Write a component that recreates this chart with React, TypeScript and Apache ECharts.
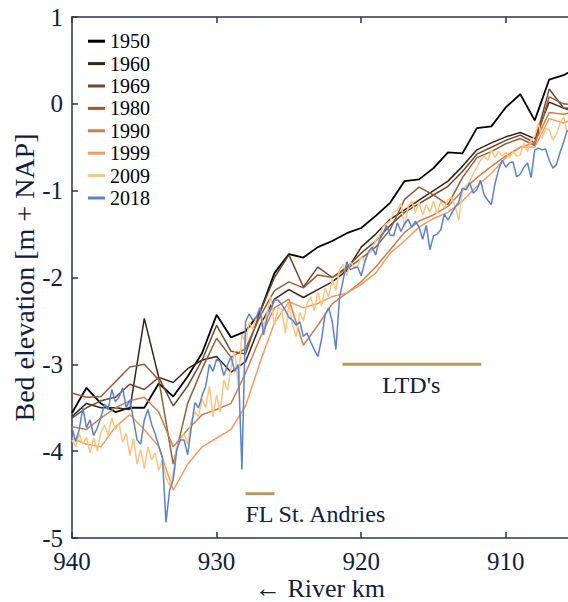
import { useEffect, useRef } from 'react';
import * as echarts from 'echarts';

// Survey stations of the older (coarse) surveys, river km
const kmSurvey = [940, 939, 938, 937, 936, 935, 934, 933, 932, 931, 930, 929, 928, 927, 926, 925, 924, 923,
  922, 921, 920, 919, 918, 917, 916, 915, 914, 913, 912, 911, 910, 909, 908, 907, 906, 905];

const years = ['1950', '1960', '1969', '1980', '1990', '1999', '2009', '2018'];
const yearColors = ['#000000', '#3b2314', '#6b4a30', '#9a5c38', '#c8804f', '#f59a5a', '#ffc57f', '#5b82d0'];

// Bed elevation [m + NAP] per survey
const elev1950 = [-3.56, -3.27, -3.45, -3.55, -3.50, -3.50, -3.22, -3.37, -3.14, -2.87, -2.43, -2.69, -2.62, -2.40,
  -1.95, -1.73, -1.77, -1.65, -1.58, -1.49, -1.43, -1.29, -1.14, -0.89, -0.87, -0.74, -0.56, -0.57, -0.28, -0.26,
  -0.04, 0.11, -0.19, 0.28, 0.33, 0.42];
const elev1960 = [-3.60, -3.45, -3.50, -3.50, -3.52, -2.47, -3.15, -3.21, -3.05, -2.95, -2.91, -3.09, -2.97, -2.55,
  -2.25, -2.14, -2.23, -2.14, -2.05, -1.92, -1.65, -1.50, -1.33, -1.22, -1.11, -1.00, -0.89, -0.72, -0.53, -0.45,
  -0.38, -0.33, -0.40, 0.02, -0.05, -0.05];
const elev1969 = [-3.62, -3.50, -3.42, -3.38, -3.23, -3.29, -3.15, -3.48, -3.25, -2.95, -2.55, -2.85, -2.88, -2.40,
  -2.00, -1.74, -2.11, -1.88, -2.00, -1.88, -1.72, -1.58, -1.40, -1.25, -1.15, -1.05, -0.95, -0.78, -0.58, -0.50,
  -0.42, -0.36, -0.45, 0.17, -0.05, -0.10];
const elev1980 = [-3.33, -3.38, -3.37, -3.20, -3.03, -3.00, -3.18, -4.15, -3.45, -3.05, -2.70, -2.92, -2.82, -2.45,
  -2.15, -2.05, -2.12, -1.97, -2.00, -1.90, -1.78, -1.65, -1.45, -1.10, -0.96, -1.05, -1.16, -0.85, -0.62, -0.55,
  -0.46, -0.40, -0.48, 0.08, 0.00, -0.02];
const elev1990 = [-3.72, -3.75, -3.62, -3.50, -3.42, -3.38, -3.55, -3.95, -3.75, -3.58, -3.52, -3.45, -3.10, -2.70,
  -2.35, -2.25, -2.78, -2.55, -2.30, -2.18, -2.05, -1.88, -1.68, -1.48, -1.35, -1.28, -1.18, -1.00, -0.85, -0.72,
  -0.60, -0.50, -0.45, -0.10, -0.12, -0.08];
const elev1999 = [-3.85, -3.92, -3.95, -3.72, -3.58, -3.75, -3.95, -4.45, -4.15, -3.95, -3.85, -3.75, -3.48, -2.98,
  -2.52, -2.28, -2.35, -2.30, -2.22, -2.18, -2.08, -1.95, -1.72, -1.58, -1.42, -1.32, -1.25, -1.12, -0.95, -0.80,
  -0.62, -0.50, -0.50, -0.17, -0.22, -0.15];

// Recent multibeam surveys, sampled every 0.25 km starting at km 940
const FINE_STEP = 0.25;
const elev2009 = [
  -3.87, -3.95, -3.80, -3.92, -3.84, -4.02, -3.85, -4.00, -3.78, -3.70,
  -3.82, -3.62, -3.75, -3.68, -3.90, -3.80, -4.05, -3.85, -4.15, -3.98,
  -4.20, -3.95, -4.10, -4.02, -4.22, -4.10, -4.30, -4.40, -4.25, -3.95,
  -3.87, -3.80, -3.92, -3.65, -3.55, -3.60, -3.40, -3.50, -3.25, -3.60,
  -3.35, -3.55, -3.18, -3.30, -3.03, -2.85, -3.25, -2.65, -2.75, -2.52,
  -2.60, -2.45, -2.34, -2.58, -2.40, -2.22, -2.55, -2.35, -2.37, -2.64,
  -2.30, -2.55, -2.68, -2.40, -2.50, -2.30, -2.22, -2.38, -2.17, -2.33,
  -2.12, -2.22, -2.02, -2.15, -1.91, -1.85, -1.98, -1.82, -1.88, -1.87,
  -1.76, -1.82, -1.72, -1.68, -1.57, -1.53, -1.42, -1.38, -1.35, -1.25,
  -1.22, -1.15, -1.42, -1.18, -1.12, -1.25, -1.13, -1.28, -1.16, -1.25,
  -1.12, -1.27, -1.12, -1.20, -1.10, -1.08, -1.18, -1.34, -1.00, -0.95,
  -0.90, -0.80, -0.73, -0.65, -0.60, -0.65, -0.53, -0.62, -0.55, -0.60,
  -0.56, -0.62, -0.55, -0.60, -0.59, -0.45, -0.55, -0.42, -0.38, -0.22,
  -0.40, -0.28, -0.30, -0.42, -0.35, -0.22, -0.15, -0.33];
const elev2018 = [
  -3.72, -3.89, -3.75, -3.50, -3.73, -3.64, -3.82, -3.73, -3.61, -3.46,
  -3.52, -3.29, -3.43, -3.38, -3.27, -3.50, -3.41, -3.64, -3.87, -3.92,
  -3.64, -3.52, -3.69, -3.80, -3.94, -4.07, -4.82, -4.45, -4.33, -3.98,
  -3.87, -3.87, -4.04, -3.73, -3.44, -3.50, -3.36, -3.25, -3.00, -3.08,
  -2.94, -2.97, -3.13, -3.01, -2.91, -3.08, -3.00, -4.21, -2.51, -2.42,
  -2.49, -2.46, -2.35, -2.66, -2.46, -2.37, -2.26, -2.26, -2.31, -2.38,
  -2.46, -2.49, -2.55, -2.51, -2.68, -2.64, -2.74, -2.83, -2.91, -2.72,
  -2.43, -2.35, -2.51, -2.83, -2.23, -2.03, -1.82, -1.91, -1.89, -1.88,
  -1.98, -1.82, -1.70, -1.65, -1.74, -1.57, -1.50, -1.40, -1.51, -1.52,
  -1.37, -1.47, -1.38, -1.33, -1.42, -1.35, -1.42, -1.56, -1.40, -1.68,
  -1.52, -1.50, -1.45, -1.27, -1.34, -1.26, -1.19, -1.13, -0.97, -0.99,
  -0.91, -1.03, -0.99, -0.88, -1.05, -1.11, -1.16, -0.92, -0.76, -0.65,
  -0.73, -0.68, -0.67, -0.84, -0.81, -0.73, -0.68, -0.85, -0.53, -0.51,
  -0.53, -0.52, -0.65, -0.74, -0.70, -0.56, -0.44, -0.30];
const kmFine = elev2018.map((_, i) => 940 - i * FINE_STEP);

// Reaches marked below the profiles
const ltdKm = [921.3, 911.7];
const ltdLevel = -3.0;
const ltdLabelAt = [916.54, -3.24];
const flKm = [928.0, 926.0];
const flLevel = -4.49;
const flLabelAt = [923.17, -4.72];

const xTicks = [940, 930, 920, 910];

const AXIS_COLOR = '#26364f';
const TEXT_COLOR = '#10203f';
const MARK_COLOR = '#b8975a';
const FONT = "'Liberation Serif', 'Times New Roman', serif";

export default function App() {
  const ref = useRef<HTMLDivElement>(null);

  useEffect(() => {
    if (!ref.current) return;
    const chart = echarts.init(ref.current, undefined, { renderer: 'svg' });

    const profiles = [elev1950, elev1960, elev1969, elev1980, elev1990, elev1999, elev2009, elev2018];
    const stations = [kmSurvey, kmSurvey, kmSurvey, kmSurvey, kmSurvey, kmSurvey, kmFine, kmFine];

    const profileSeries = years.map((year, s) => ({
      name: year,
      type: 'line',
      data: profiles[s].map((v, i) => [stations[s][i], v]),
      showSymbol: false,
      symbol: 'none',
      color: yearColors[s],
      lineStyle: { color: yearColors[s], width: s === 0 ? 1.8 : 1.5 },
      clip: true,
      z: 2 + s,
    }));

    const labelStyle = {
      show: true,
      position: [0, 0],
      align: 'center',
      verticalAlign: 'middle',
      fontSize: 24,
      fontFamily: FONT,
      color: TEXT_COLOR,
      opacity: 1,
      textBorderWidth: 0,
    };

    const axisLine = { show: true, onZero: false, lineStyle: { color: AXIS_COLOR, width: 1.5 } };

    chart.setOption({
      animation: false,
      textStyle: { fontFamily: FONT },
      grid: { left: 72, right: 0, top: 17, bottom: 64, containLabel: false, outerBoundsMode: 'none' },
      legend: {
        data: years,
        orient: 'vertical',
        left: 83,
        top: 25,
        icon: 'rect',
        itemWidth: 17,
        itemHeight: 3,
        itemGap: 0,
        textStyle: { fontSize: 20, lineHeight: 22.4, color: '#000000', fontFamily: FONT },
        selectedMode: false,
      },
      xAxis: [
        {
          type: 'value',
          min: 905.7,
          max: 940,
          inverse: true,
          position: 'bottom',
          axisLine,
          axisTick: { show: true, inside: true, length: 6, customValues: xTicks, lineStyle: { color: AXIS_COLOR, width: 1.5 } },
          axisLabel: { customValues: xTicks, fontSize: 25, color: TEXT_COLOR, margin: 11, fontFamily: FONT },
          splitLine: { show: false },
          name: '← River km',
          nameLocation: 'middle',
          nameGap: 37,
          nameMoveOverlap: false,
          nameTextStyle: { fontSize: 26, lineHeight: 26, color: TEXT_COLOR, fontFamily: FONT },
        },
        {
          type: 'value',
          min: 905.7,
          max: 940,
          inverse: true,
          position: 'top',
          axisLine,
          axisTick: { show: true, inside: true, length: 6, customValues: xTicks, lineStyle: { color: AXIS_COLOR, width: 1.5 } },
          axisLabel: { show: false },
          splitLine: { show: false },
        },
      ],
      yAxis: {
        type: 'value',
        min: -5,
        max: 1,
        interval: 1,
        axisLine,
        axisTick: { show: true, inside: true, length: 6, lineStyle: { color: AXIS_COLOR, width: 1.5 } },
        axisLabel: { fontSize: 25, color: TEXT_COLOR, margin: 9, fontFamily: FONT },
        splitLine: { show: false },
        name: 'Bed elevation [m + NAP]',
        nameLocation: 'middle',
        nameGap: 34,
        nameMoveOverlap: false,
        nameTextStyle: { fontSize: 28, color: TEXT_COLOR, fontFamily: FONT },
      },
      series: [
        ...profileSeries,
        {
          name: 'ltd-reach',
          type: 'line',
          data: ltdKm.map((k) => [k, ltdLevel]),
          symbol: 'none',
          lineStyle: { color: MARK_COLOR, width: 3 },
          silent: true,
          z: 1,
        },
        {
          name: 'fl-reach',
          type: 'line',
          data: flKm.map((k) => [k, flLevel]),
          symbol: 'none',
          lineStyle: { color: MARK_COLOR, width: 3 },
          silent: true,
          z: 1,
        },
        {
          name: 'reach-labels',
          type: 'scatter',
          symbolSize: 0,
          silent: true,
          itemStyle: { color: TEXT_COLOR, opacity: 1 },
          data: [
            { value: ltdLabelAt, label: { ...labelStyle, formatter: "LTD's" } },
            { value: flLabelAt, label: { ...labelStyle, formatter: 'FL St. Andries' } },
          ],
          z: 20,
        },
      ],
    });

    return () => chart.dispose();
  }, []);

  return (
    <div
      ref={ref}
      style={{
        position: 'absolute',
        left: 0,
        top: 0,
        width: 568,
        height: 602,
        overflow: 'hidden',
        background: '#ffffff',
      }}
    />
  );
}
